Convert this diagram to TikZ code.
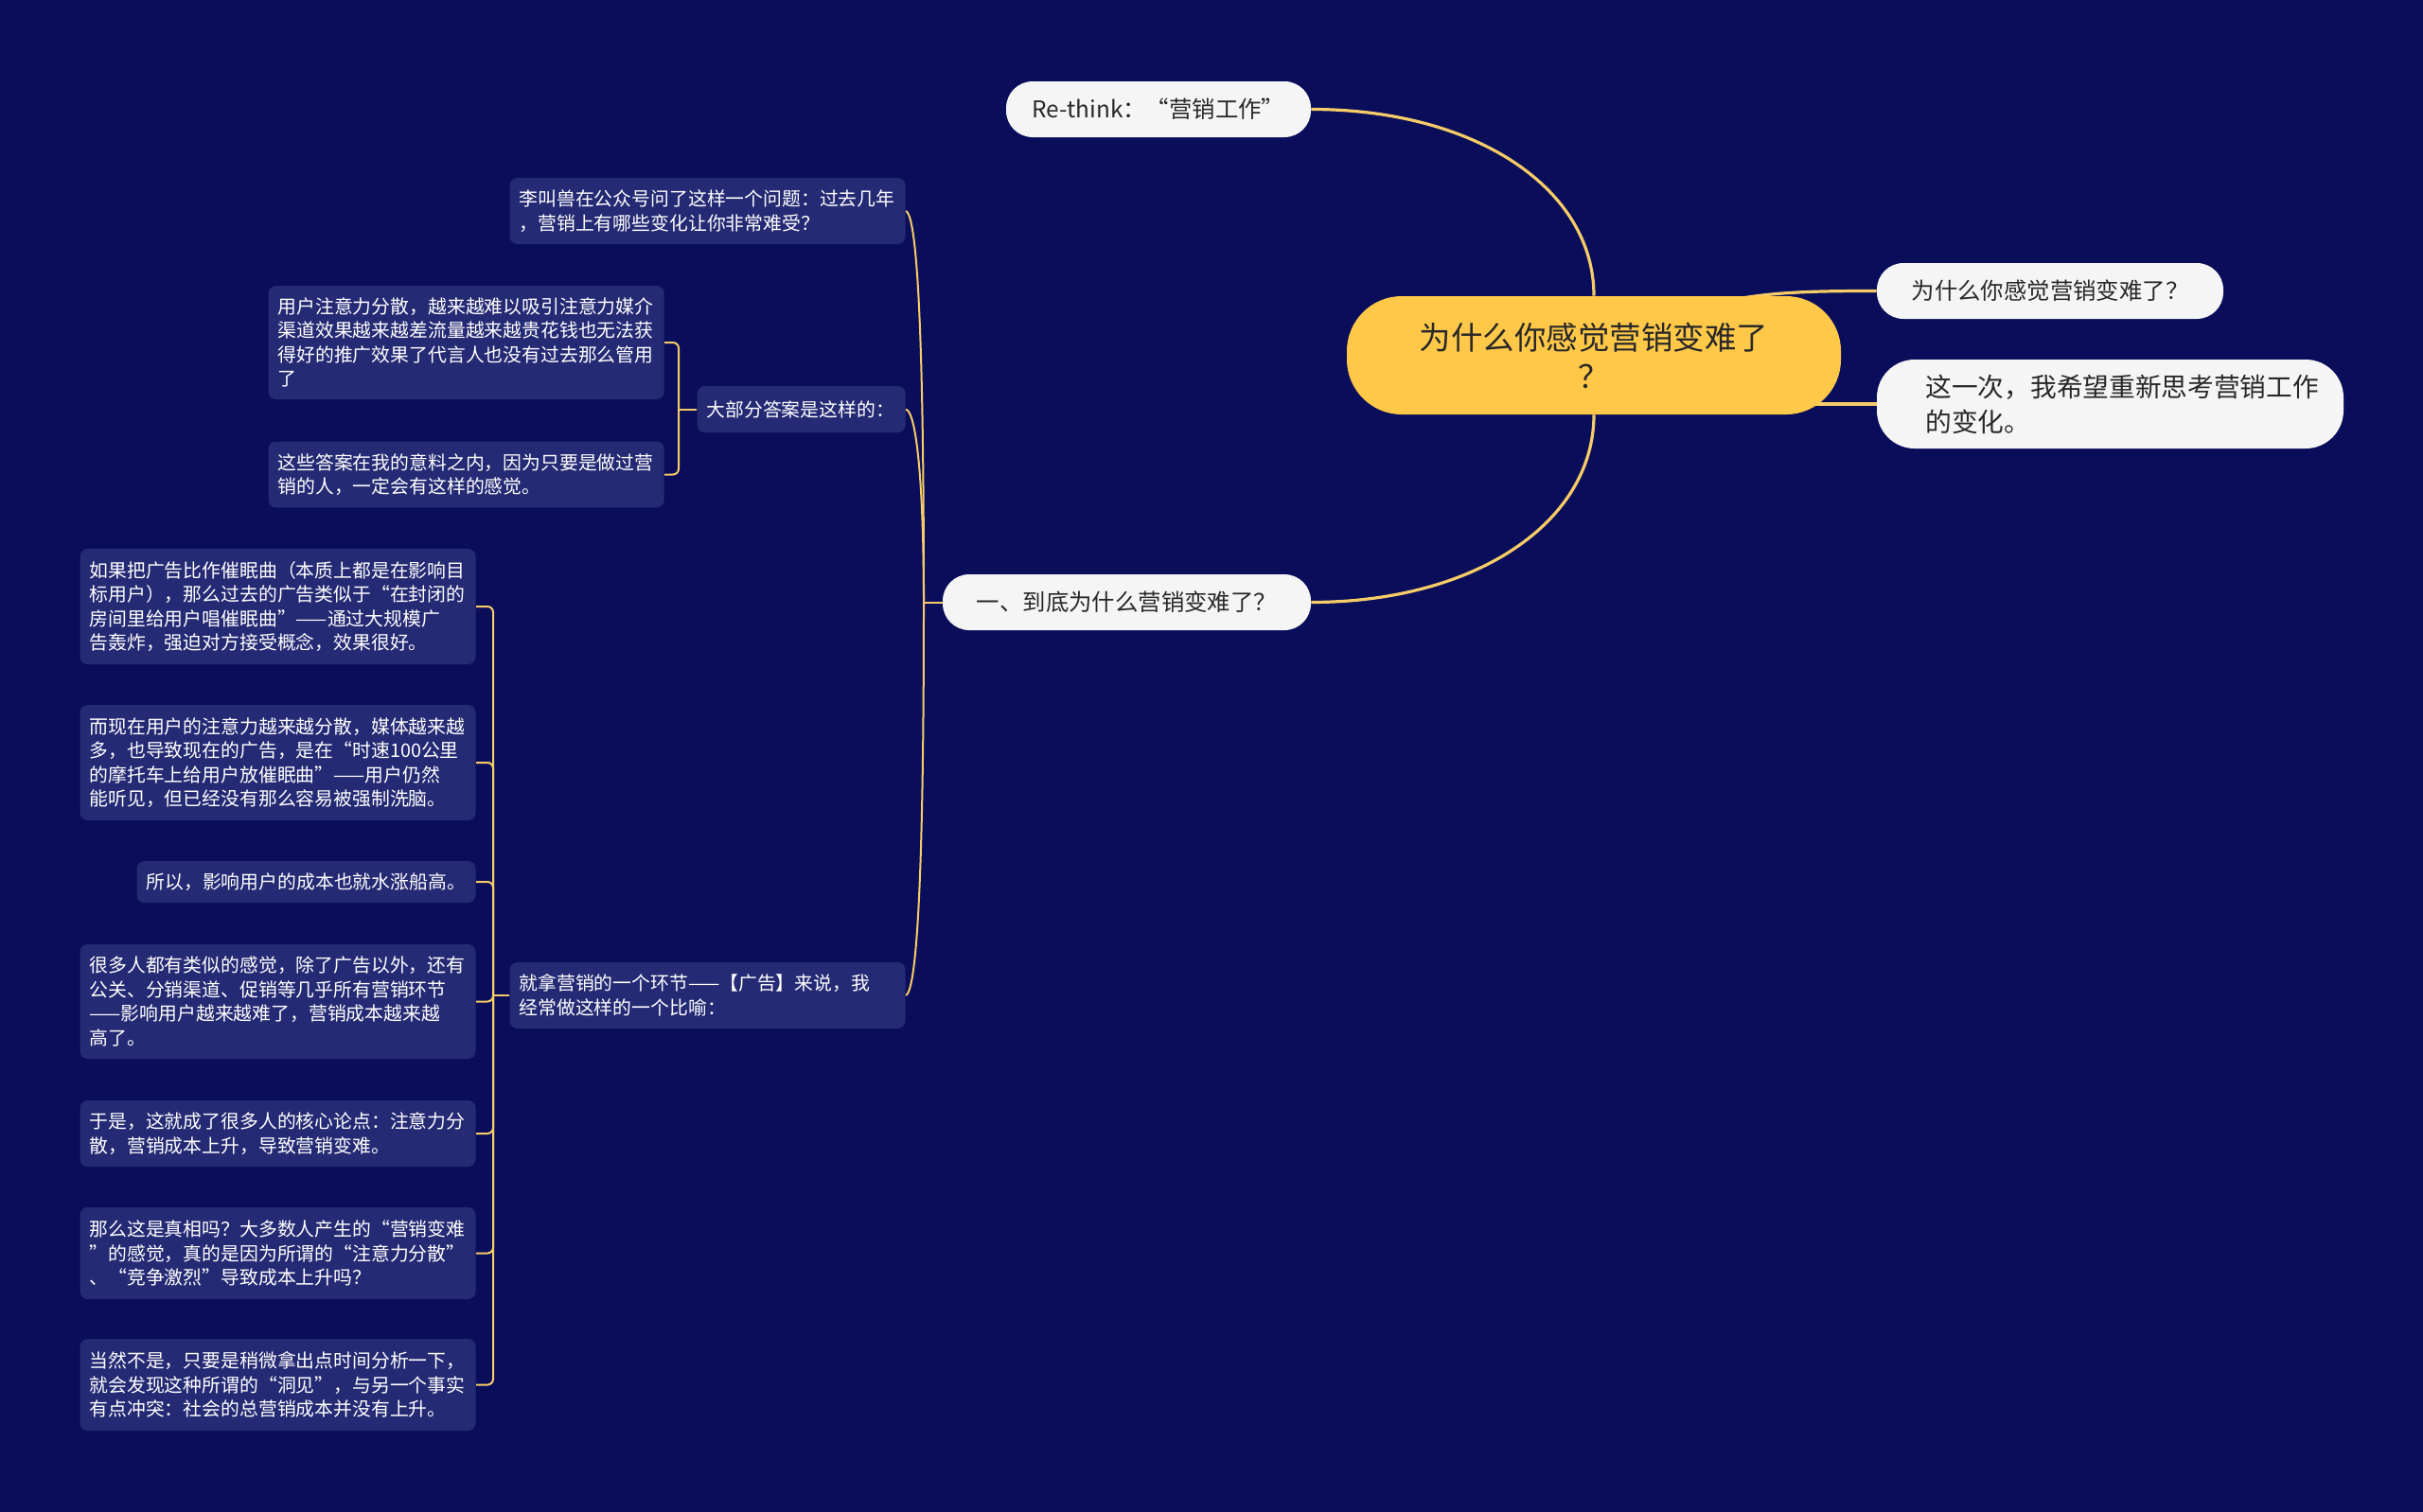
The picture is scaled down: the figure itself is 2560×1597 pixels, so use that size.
\documentclass[tikz,border=0pt]{standalone}
\usepackage{fontspec}
\setmainfont{Noto Sans CJK SC}
\usetikzlibrary{backgrounds}
\definecolor{bg}{RGB}{10,14,90}
\definecolor{dboxc}{RGB}{37,42,116}
\definecolor{rootc}{RGB}{255,200,72}
\definecolor{linec}{RGB}{246,204,104}
\definecolor{pillc}{RGB}{245,245,245}
\definecolor{ptext}{RGB}{40,40,40}
\tikzset{
  dark/.style={fill=dboxc, text=white, rounded corners=4pt, align=left, inner xsep=5pt, inner ysep=0pt,
    font=\fontsize{9.92pt}{12.75pt}\selectfont},
  pillnode/.style={fill=pillc, text=ptext, rounded corners=14pt, inner sep=0pt, align=center,
    font=\fontsize{12.2pt}{15pt}\selectfont},
  rootnode/.style={fill=rootc, text=ptext, rounded corners=29pt, inner sep=0pt, align=center,
    font=\fontsize{16.75pt}{20.5pt}\selectfont},
  conn/.style={draw=linec, line width=1pt},
  rootconn/.style={draw=linec, line width=1.6pt},
  bracket/.style={conn, rounded corners=3pt},
}
\begin{document}
\begin{tikzpicture}[x=0.5pt,y=-0.5pt]
\useasboundingbox (0,0) rectangle (2560,1597);

% root and first level
\node[rootnode, minimum width=261pt, minimum height=62.5pt] (root) at (1684,375.5) {为什么你感觉营销变难了\\？};
\node[pillnode, minimum width=161pt, minimum height=29.5pt] (rethink) at (1224,115.5) {Re-think：“营销工作”};
\node[pillnode, minimum width=183pt, minimum height=29.5pt] (why) at (2166,307.5) {为什么你感觉营销变难了？};
\node[pillnode, minimum width=246.5pt, minimum height=47pt, rounded corners=20pt, align=left,
      font=\fontsize{13.85pt}{18.5pt}\selectfont, text width=195pt] (this) at (2229.5,427) {这一次，我希望重新思考营销工作\\的变化。};
\node[pillnode, minimum width=194.5pt, minimum height=29.5pt] (yi) at (1190.5,636.5) {一、到底为什么营销变难了？};

% second level
\node[dark, text width=199pt, minimum height=35pt, anchor=east] (li) at (957,223)
  {李叫兽在公众号问了这样一个问题：过去几年\\，营销上有哪些变化让你非常难受？};
\node[dark, text width=100pt, minimum height=24.5pt, anchor=east] (dab) at (957,432.5)
  {大部分答案是这样的：};
\node[dark, text width=199pt, minimum height=35pt, anchor=east] (jiuna) at (957,1052)
  {就拿营销的一个环节——【广告】来说，我\\经常做这样的一个比喻：};

% children of dab
\node[dark, text width=199pt, minimum height=60pt, anchor=east] (yonghu) at (702,362)
  {用户注意力分散，越来越难以吸引注意力媒介\\渠道效果越来越差流量越来越贵花钱也无法获\\得好的推广效果了代言人也没有过去那么管用\\了};
\node[dark, text width=199pt, minimum height=35pt, anchor=east] (zhexie) at (702,501.5)
  {这些答案在我的意料之内，因为只要是做过营\\销的人，一定会有这样的感觉。};

% children of jiuna
\node[dark, text width=199pt, minimum height=61pt, anchor=east] (ruguo) at (503,641)
  {如果把广告比作催眠曲（本质上都是在影响目\\标用户），那么过去的广告类似于“在封闭的\\房间里给用户唱催眠曲”——通过大规模广\\告轰炸，强迫对方接受概念，效果很好。};
\node[dark, text width=199pt, minimum height=61pt, anchor=east] (erxian) at (503,806)
  {而现在用户的注意力越来越分散，媒体越来越\\多，也导致现在的广告，是在“时速100公里\\的摩托车上给用户放催眠曲”——用户仍然\\能听见，但已经没有那么容易被强制洗脑。};
\node[dark, text width=169pt, minimum height=22pt, anchor=east] (suoyi) at (503,932)
  {所以，影响用户的成本也就水涨船高。};
\node[dark, text width=199pt, minimum height=60.5pt, anchor=east] (henduo) at (503,1058.5)
  {很多人都有类似的感觉，除了广告以外，还有\\公关、分销渠道、促销等几乎所有营销环节\\——影响用户越来越难了，营销成本越来越\\高了。};
\node[dark, text width=199pt, minimum height=35pt, anchor=east] (yushi) at (503,1198)
  {于是，这就成了很多人的核心论点：注意力分\\散，营销成本上升，导致营销变难。};
\node[dark, text width=199pt, minimum height=48.5pt, anchor=east] (name) at (503,1324.5)
  {那么这是真相吗？大多数人产生的“营销变难\\”的感觉，真的是因为所谓的“注意力分散”\\、“竞争激烈”导致成本上升吗？};
\node[dark, text width=199pt, minimum height=48.5pt, anchor=east] (dangran) at (503,1463.5)
  {当然不是，只要是稍微拿出点时间分析一下，\\就会发现这种所谓的“洞见”，与另一个事实\\有点冲突：社会的总营销成本并没有上升。};

\begin{scope}[on background layer]
  \fill[bg] (-10,-10) rectangle (2570,1607);
  % root connectors
  \coordinate (rw) at (1760,345);
  \coordinate (rt) at (1900,427);
  \draw[rootconn] (rethink.east) .. controls (1560,115.5) and (1684,200) .. (root.north);
  \draw[rootconn] (root.south) .. controls (1684,551) and (1560,636.5) .. (yi.east);
  \draw[rootconn] (rw) .. controls (1810,308) and (1900,307.5) .. (why.west);
  \draw[rootconn] (rt) -- (this.west);
  % trunk from yi
  \coordinate (yt) at (976,636.5);
  \draw[conn] (yi.west) -- (yt);
  \draw[conn] (li.east) .. controls (972,228) and (976,420) .. (yt);
  \draw[conn] (dab.east) .. controls (970,436) and (976,530) .. (yt);
  \draw[conn] (jiuna.east) .. controls (972,1046) and (976,850) .. (yt);
  % bracket of dab
  \coordinate (b1) at (717,432.5);
  \draw[conn] (dab.west) -- (b1);
  \draw[bracket] (yonghu.east) -| (b1);
  \draw[bracket] (zhexie.east) -| (b1);
  % bracket of jiuna
  \coordinate (b2) at (521,1052);
  \draw[conn] (jiuna.west) -- (b2);
  \foreach \c in {ruguo,erxian,suoyi,henduo,yushi,name,dangran}
    \draw[bracket] (\c.east) -| (b2);
\end{scope}
\end{tikzpicture}
\end{document}
